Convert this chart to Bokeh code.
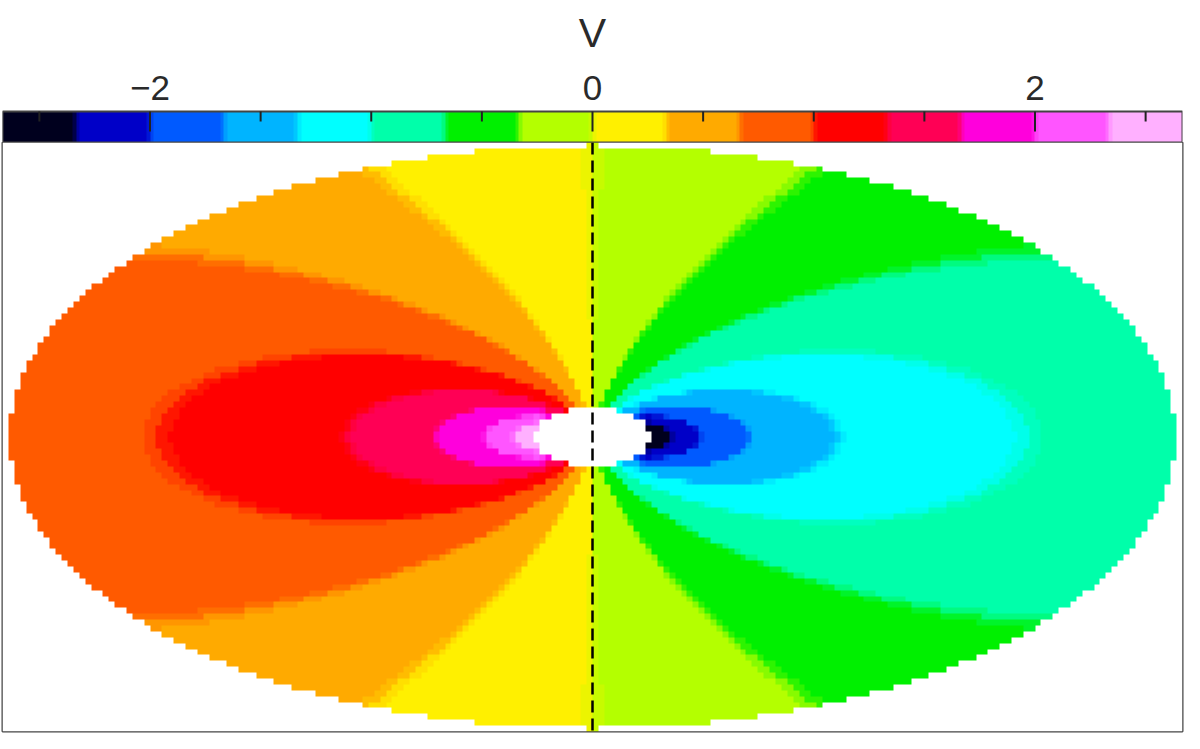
import numpy as np
from bokeh.plotting import figure
from bokeh.models import LinearColorMapper, Range1d, Span
from bokeh.layouts import column
from bokeh.core.properties import value
from bokeh.embed import file_html
from bokeh.resources import INLINE

# ---- colour scale (16 discrete levels) ----
V_MIN, V_MAX = -8 / 3, 8 / 3
LEVEL_COLORS = ["#00001e", "#0000c8", "#005aff", "#00b4ff",
                "#00ffff", "#00ffaa", "#00f000", "#b4ff00",
                "#fff000", "#ffaa00", "#ff5a00", "#ff0000",
                "#ff0055", "#ff00dc", "#ff55ff", "#ffb0ff"]
MAJOR_TICKS = [-2, 0, 2]
MAJOR_LABELS = ["\u22122", "0", "2"]
MINOR_TICKS = [-2.5, -1.5, -1.0, -0.5, 0.5, 1.0, 1.5, 2.5]
COLORBAR_TITLE = "V"

# ---- disc model ----
R_OUT = 1.0        # outer radius (major-axis units)
R_IN = 0.10        # radius of central hole
COS_INC = 0.5      # axis ratio b/a
V_AT_ROUT = 0.865  # Keplerian l.o.s. speed on the major axis at R_OUT
NX, NY = 200, 100  # map pixels
X_HALF, Y_HALF = 1.012, 0.505

# ---- layout (screen pixels) ----
FONT = "Liberation Sans"
W_PX = 1184
CB_H = 142          # height of colour-bar block
BAR_H = 31          # height of the bar itself
MAJOR_LEN, MINOR_LEN = 20, 10
LABEL_GAP = 24      # bar top -> tick-label baseline
TITLE_GAP = 79      # bar top -> title baseline
MAP_H = 591
BORDER = "#444444"
TEXT = "#2a2a2a"


def hex2rgb(h):
    return np.array([int(h[i:i + 2], 16) for i in (1, 3, 5)], float)


# palette with short blends at level boundaries
M = 20
BLEND = 0.1
palette = []
nlev = len(LEVEL_COLORS)
for k in range(nlev):
    base = hex2rgb(LEVEL_COLORS[k])
    for j in range(M):
        t = (j + 0.5) / M
        c = base.copy()
        if t < BLEND / 2 and k > 0:
            f = 0.5 - t / BLEND
            c = (1 - f) * base + f * hex2rgb(LEVEL_COLORS[k - 1])
        elif 1 - t < BLEND / 2 and k < nlev - 1:
            f = 0.5 - (1 - t) / BLEND
            c = (1 - f) * base + f * hex2rgb(LEVEL_COLORS[k + 1])
        palette.append("#%02x%02x%02x" % tuple(int(round(v)) for v in c))

mapper = LinearColorMapper(palette=palette, low=V_MIN, high=V_MAX, nan_color="white")

# ---- velocity map ----
xe = np.linspace(-X_HALF, X_HALF, NX + 1)
ye = np.linspace(-Y_HALF, Y_HALF, NY + 1)
xc = 0.5 * (xe[:-1] + xe[1:])
yc = 0.5 * (ye[:-1] + ye[1:])
XX, YY = np.meshgrid(xc, yc)
RR = np.hypot(XX, YY / COS_INC)
with np.errstate(divide="ignore", invalid="ignore"):
    VV = -V_AT_ROUT * np.sqrt(R_OUT) * XX / RR ** 1.5
VV[(RR > R_OUT) | (RR < R_IN)] = np.nan

p = figure(width=W_PX, height=MAP_H,
           x_range=Range1d(-X_HALF, X_HALF), y_range=Range1d(-Y_HALF, Y_HALF),
           output_backend="svg", toolbar_location=None,
           x_axis_location=None, y_axis_location=None,
           min_border_left=2, min_border_right=2, min_border_bottom=2, min_border_top=0)
p.image(image=[VV], x=-X_HALF, y=-Y_HALF, dw=2 * X_HALF, dh=2 * Y_HALF, color_mapper=mapper)
p.grid.visible = False
p.outline_line_color = BORDER
p.outline_line_width = 2
p.add_layout(Span(location=0, dimension="height", line_color="black",
                  line_width=2.5, line_dash="12 6"))

# ---- colour bar (drawn in a screen-pixel y frame) ----
NB = 1600
bar_vals = V_MIN + (np.arange(NB) + 0.5) * (V_MAX - V_MIN) / NB
cb = figure(width=W_PX, height=CB_H,
            x_range=Range1d(V_MIN, V_MAX), y_range=Range1d(0, CB_H),
            output_backend="svg", toolbar_location=None,
            x_axis_location=None, y_axis_location=None,
            min_border_left=2, min_border_right=2, min_border_bottom=0, min_border_top=0)
cb.grid.visible = False
cb.outline_line_color = None
cb.image(image=[bar_vals[None, :]], x=V_MIN, y=0, dw=V_MAX - V_MIN, dh=BAR_H,
         color_mapper=mapper)
cb.quad(left=[V_MIN], right=[V_MAX], bottom=[0], top=[BAR_H],
        fill_color=None, line_color=BORDER, line_width=2)
cb.segment(x0=MAJOR_TICKS, x1=MAJOR_TICKS, y0=[BAR_H] * len(MAJOR_TICKS),
           y1=[BAR_H - MAJOR_LEN] * len(MAJOR_TICKS), line_color="#222222", line_width=2)
cb.segment(x0=MINOR_TICKS, x1=MINOR_TICKS, y0=[BAR_H] * len(MINOR_TICKS),
           y1=[BAR_H - MINOR_LEN] * len(MINOR_TICKS), line_color="#222222", line_width=2)
cb.text(x=MAJOR_TICKS, y=[BAR_H + LABEL_GAP] * len(MAJOR_TICKS), text=MAJOR_LABELS,
        text_align="center", text_baseline="alphabetic",
        text_font=value(FONT), text_font_size="35px", text_color=TEXT)
cb.text(x=[(V_MIN + V_MAX) / 2], y=[BAR_H + TITLE_GAP], text=[COLORBAR_TITLE],
        text_align="center", text_baseline="alphabetic",
        text_font=value(FONT), text_font_size="41px", text_color=TEXT)

layout = column(cb, p, spacing=0)
open("out.html", "w").write(file_html(layout, INLINE))
